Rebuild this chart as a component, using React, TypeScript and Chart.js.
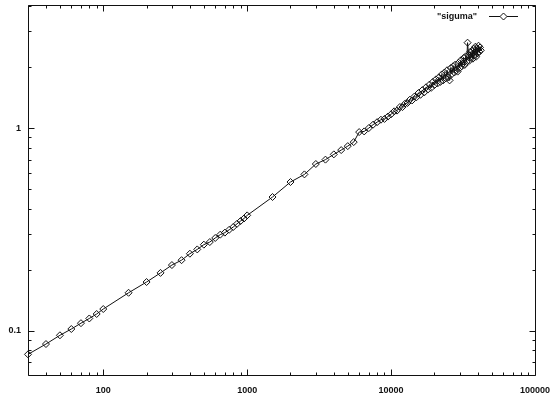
import React, { useEffect, useRef } from "react";
import { Chart, registerables } from "chart.js";

Chart.register(...registerables);

// ---- data ----
const xLow = [30, 40, 50, 60, 70, 80, 90];
const yLow = [0.0765, 0.086, 0.095, 0.102, 0.109, 0.115, 0.121];

const xMid = [100, 150, 200, 250, 300, 350, 400, 450, 500, 550, 600, 650, 700, 750, 800, 850, 900, 950, 1000];
const yMid = [0.128, 0.154, 0.174, 0.193, 0.211, 0.223, 0.24, 0.252, 0.266, 0.274, 0.287, 0.298, 0.305, 0.315, 0.325, 0.337, 0.348, 0.358, 0.371];

const xHigh = [1500, 2000, 2500, 3000, 3500, 4000, 4500, 5000, 5500, 6000, 6500, 7000, 7500, 8000, 8500, 9000, 9500, 10000];
const yHigh = [0.457, 0.542, 0.591, 0.665, 0.699, 0.742, 0.779, 0.815, 0.853, 0.956, 0.963, 1.0, 1.04, 1.07, 1.1, 1.11, 1.14, 1.17];

const xTop = [
  10500, 11000, 11500, 12000, 12500, 13000, 13500, 14000, 14500, 15000,
  15500, 16000, 16500, 17000, 17500, 18000, 18500, 19000, 19500, 20000,
  20500, 21000, 21500, 22000, 22500, 23000, 23500, 24000, 24500, 25000,
  25500, 26000, 26500, 27000, 27500, 28000, 28500, 29000, 29500, 30000,
  30500, 31000, 31500, 32000, 32500, 33000, 33500, 34000, 34500, 35000,
  35500, 36000, 36500, 37000, 37500, 38000, 38500, 39000, 39500, 40000,
  40500, 41000, 41500, 42000,
];
const yTop = [
  1.21, 1.22, 1.27, 1.27, 1.32, 1.33, 1.38, 1.37, 1.43, 1.42,
  1.49, 1.46, 1.54, 1.5, 1.59, 1.55, 1.64, 1.58, 1.69, 1.63,
  1.74, 1.66, 1.78, 1.69, 1.84, 1.72, 1.88, 1.76, 1.93, 1.78,
  1.72, 1.98, 1.85, 2.02, 1.88, 2.06, 1.93, 1.9, 2.1, 1.98,
  2.16, 2.02, 2.08, 2.22, 2.05, 2.26, 2.12, 2.64, 2.3, 2.15,
  2.38, 2.22, 2.4, 2.2, 2.46, 2.28, 2.52, 2.25, 2.48, 2.34,
  2.55, 2.38, 2.5, 2.42,
];

const seriesLabel = '"siguma"';

const xTickValues = [100, 1000, 10000, 100000];
const xTickLabels = ["100", "1000", "10000", "100000"];
const yTickValues = [0.1, 1];
const yTickLabels = ["0.1", "1"];

const X_MIN = 30;
const X_MAX = 100000;
const Y_MIN = 0.0605;
const Y_MAX = 4.05;

const FONT = { family: "'Liberation Sans', Arial, Helvetica, sans-serif", size: 9, weight: "bold" as const };
const INK = "#111";

function minorValues(min: number, max: number): number[] {
  const out: number[] = [];
  for (let e = -3; e <= 6; e++) {
    const d = Math.pow(10, e);
    for (let k = 1; k <= 9; k++) {
      const v = +(k * d).toPrecision(6);
      if (v >= min * 0.9999 && v <= max * 1.0001) out.push(v);
    }
  }
  return out;
}

const frameTicksPlugin = {
  id: "frameTicks",
  afterDraw(chart: any) {
    const { ctx, chartArea, scales } = chart;
    const { left, right, top, bottom } = chartArea;
    const xs = scales.x;
    const ys = scales.y;
    ctx.save();
    ctx.strokeStyle = INK;
    ctx.lineWidth = 1;
    ctx.beginPath();
    ctx.rect(left + 0.5, top + 0.5, right - left, bottom - top);
    ctx.stroke();

    ctx.beginPath();
    for (const v of minorValues(X_MIN, X_MAX)) {
      const isMajor = xTickValues.includes(v);
      const len = isMajor ? 6 : 3;
      const px = Math.round(xs.getPixelForValue(v)) + 0.5;
      ctx.moveTo(px, bottom + 0.5);
      ctx.lineTo(px, bottom + 0.5 - len);
      ctx.moveTo(px, top + 0.5);
      ctx.lineTo(px, top + 0.5 + len);
    }
    for (const v of minorValues(Y_MIN, Y_MAX)) {
      const isMajor = yTickValues.includes(v);
      const len = isMajor ? 6 : 3;
      const py = Math.round(ys.getPixelForValue(v)) + 0.5;
      ctx.moveTo(left + 0.5, py);
      ctx.lineTo(left + 0.5 + len, py);
      ctx.moveTo(right + 0.5, py);
      ctx.lineTo(right + 0.5 - len, py);
    }
    ctx.stroke();

    // legend (gnuplot style: text, then line sample with point)
    const ly = top + 11.5;
    ctx.fillStyle = INK;
    ctx.font = `${FONT.weight} ${FONT.size}px ${FONT.family}`;
    ctx.textAlign = "right";
    ctx.textBaseline = "middle";
    ctx.fillText(seriesLabel, right - 58, ly);
    ctx.beginPath();
    ctx.moveTo(right - 46, ly);
    ctx.lineTo(right - 17, ly);
    ctx.stroke();
    const cx = right - 31.5;
    const r = 3.5;
    ctx.beginPath();
    ctx.moveTo(cx - r, ly);
    ctx.lineTo(cx, ly - r);
    ctx.lineTo(cx + r, ly);
    ctx.lineTo(cx, ly + r);
    ctx.closePath();
    ctx.fillStyle = "#fff";
    ctx.fill();
    ctx.stroke();
    ctx.restore();
  },
};

export default function App() {
  const canvasRef = useRef<HTMLCanvasElement | null>(null);

  useEffect(() => {
    document.body.style.margin = "0";
    const canvas = canvasRef.current;
    if (!canvas) return;

    const xs = [...xLow, ...xMid, ...xHigh, ...xTop];
    const ysv = [...yLow, ...yMid, ...yHigh, ...yTop];
    const points = xs.map((x, i) => ({ x, y: ysv[i] }));

    const chart = new Chart(canvas, {
      type: "scatter",
      data: {
        datasets: [
          {
            label: seriesLabel,
            data: points,
            showLine: true,
            borderColor: INK,
            borderWidth: 1,
            pointStyle: "rectRot",
            pointRadius: 3.5,
            pointBorderWidth: 1,
            pointBorderColor: INK,
            pointBackgroundColor: "rgba(255,255,255,0)",
            tension: 0,
            clip: false as any,
          },
        ],
      },
      options: {
        responsive: false,
        animation: false,
        layout: { padding: { top: 5, right: 16, bottom: 0, left: 0 } },
        plugins: {
          legend: { display: false },
          tooltip: { enabled: false },
        },
        scales: {
          x: {
            type: "logarithmic",
            min: X_MIN,
            max: X_MAX,
            grid: { display: false, drawTicks: false },
            border: { display: false },
            ticks: {
              color: INK,
              font: FONT,
              padding: 10,
              autoSkip: false,
              maxRotation: 0,
              callback: (v: any) => {
                const i = xTickValues.indexOf(Number(v));
                return i >= 0 ? xTickLabels[i] : "";
              },
            },
            afterBuildTicks: (s: any) => {
              s.ticks = xTickValues.map((value) => ({ value }));
            },
            afterFit: (s: any) => {
              s.height = 25;
              s.paddingLeft = 0;
              s.paddingRight = 0;
            },
          },
          y: {
            type: "logarithmic",
            min: Y_MIN,
            max: Y_MAX,
            grid: { display: false, drawTicks: false },
            border: { display: false },
            ticks: {
              color: INK,
              font: FONT,
              padding: 7,
              autoSkip: false,
              callback: (v: any) => {
                const i = yTickValues.findIndex((t) => Math.abs(t - Number(v)) < 1e-9);
                return i >= 0 ? yTickLabels[i] : "";
              },
            },
            afterBuildTicks: (s: any) => {
              s.ticks = yTickValues.map((value) => ({ value }));
            },
            afterFit: (s: any) => {
              s.width = 28;
              s.paddingTop = 0;
              s.paddingBottom = 0;
            },
          },
        },
      },
      plugins: [frameTicksPlugin],
    });

    return () => chart.destroy();
  }, []);

  return (
    <div style={{ width: 551, height: 400, background: "#fff" }}>
      <canvas ref={canvasRef} width={551} height={400} style={{ display: "block" }} />
    </div>
  );
}
